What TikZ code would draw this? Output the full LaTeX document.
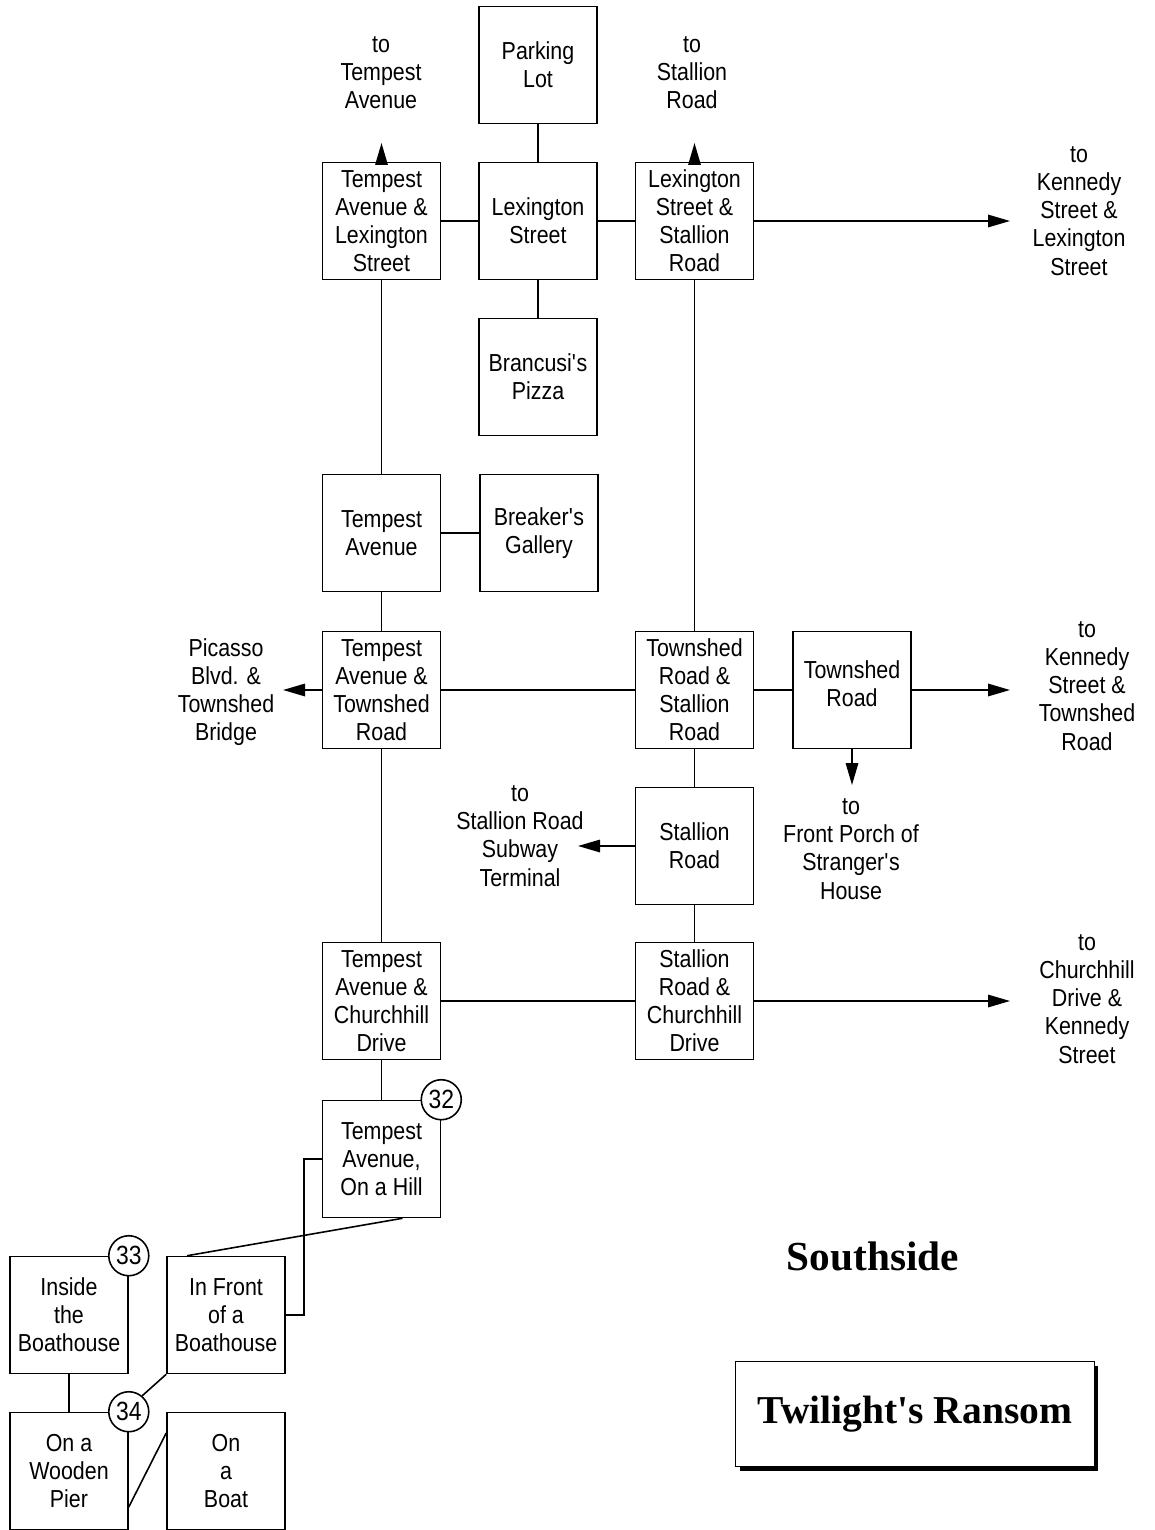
\documentclass[tikz,border=0pt]{standalone}
\usepackage{fontspec}
\setmainfont{Liberation Sans}[FakeStretch=0.87]
\newfontfamily\titlefont{Liberation Serif}
\usetikzlibrary{arrows.meta,shadows}
\newcommand{\ap}{\textquotesingle}

\begin{document}
\begin{tikzpicture}[x=0.02cm,y=-0.02cm,>={Triangle[length=0.44cm,width=0.25cm]},
    line width=0.9pt,
    place/.style={draw,minimum width=2.36cm,minimum height=2.34cm,inner sep=1pt,
      align=center,font=\fontsize{14}{16}\selectfont},
    exit/.style={align=center,font=\fontsize{14}{16}\selectfont},
    num/.style={draw,circle,fill=white,minimum size=0.8cm,inner sep=0pt,
      font=\fontsize{15}{15}\selectfont}]

  \useasboundingbox (0,0) rectangle (1154,1530);

  \node[place] (parking) at (538,65) {Parking\\Lot};
  \node[place] (tlex) at (381.5,221) {Tempest\\Avenue \&\\Lexington\\Street};
  \node[place] (lexst) at (538,221) {Lexington\\Street};
  \node[place] (lexstal) at (694.5,221) {Lexington\\Street \&\\Stallion\\Road};
  \node[place] (pizza) at (538,377) {Brancusi\ap s\\Pizza};
  \node[place] (tave) at (381.5,533) {Tempest\\Avenue};
  \node[place] (gallery) at (539,533) {Breaker\ap s\\Gallery};
  \node[place] (ttown) at (381.5,690) {Tempest\\Avenue \&\\Townshed\\Road};
  \node[place] (townstal) at (694.5,690) {Townshed\\Road \&\\Stallion\\Road};
  \node[place] (townrd) at (852,690) {Townshed\\Road\\[-0.32cm]};
  \node[place] (stalrd) at (694.5,846) {Stallion\\Road};
  \node[place] (tchurch) at (381.5,1001) {Tempest\\Avenue \&\\Churchhill\\Drive};
  \node[place] (stalchurch) at (694.5,1001) {Stallion\\Road \&\\Churchhill\\Drive};
  \node[place] (hill) at (381.5,1159) {Tempest\\Avenue,\\On a Hill};
  \node[place] (inside) at (69,1315) {Inside\\the\\Boathouse};
  \node[place] (front) at (226,1315) {In Front\\of a\\Boathouse};
  \node[place] (pier) at (69,1471) {On a\\Wooden\\Pier};
  \node[place] (boat) at (226,1471) {On\\a\\Boat};

  \node[num] (n32) at (hill.north east) {32};
  \node[num] (n33) at (inside.north east) {33};
  \node[num] (n34) at (pier.north east) {34};

  \node[exit] (toTA) at (381,73) {to\\Tempest\\Avenue};
  \node[exit] (toSR) at (692,73) {to\\Stallion\\Road};
  \node[exit] (toKL) at (1079,211) {to\\Kennedy\\Street \&\\Lexington\\Street};
  \node[exit] (toPB) at (226,692) {Picasso\\Blvd. \&\\Townshed\\Bridge};
  \node[exit] (toKT) at (1087,686) {to\\Kennedy\\Street \&\\Townshed\\Road};
  \node[exit] (toFP) at (851,849) {to\\Front Porch of\\Stranger\ap s\\House};
  \node[exit] (toSub) at (520,836) {to\\Stallion Road\\Subway\\Terminal};
  \node[exit] (toCK) at (1087,999) {to\\Churchhill\\Drive \&\\Kennedy\\Street};

  \coordinate (upTA) at (381.5,143);
  \coordinate (upSR) at (694.5,143);
  \coordinate (rtKL) at (1010,221);
  \coordinate (lfPB) at (283,690);
  \coordinate (rtKT) at (1010,690);
  \coordinate (dnFP) at (852,785);
  \coordinate (lfSub) at (578,846);
  \coordinate (rtCK) at (1010,1001);

  \draw (parking) -- (lexst);
  \draw (tlex) -- (lexst) -- (lexstal);
  \draw (lexst) -- (pizza);
  \draw (tlex) -- (tave) -- (ttown) -- (tchurch) -- (hill);
  \draw (tave) -- (gallery);
  \draw (lexstal) -- (townstal) -- (stalrd) -- (stalchurch);
  \draw (ttown) -- (townstal) -- (townrd);
  \draw (tchurch) -- (stalchurch);

  \draw[->] (tlex) -- (upTA);
  \draw[->] (lexstal) -- (upSR);
  \draw[->] (lexstal) -- (rtKL);
  \draw[->] (ttown) -- (lfPB);
  \draw[->] (townrd) -- (rtKT);
  \draw[->] (townrd) -- (dnFP);
  \draw[->] (stalrd) -- (lfSub);
  \draw[->] (stalchurch) -- (rtCK);

  \draw ([xshift=0.42cm]hill.south) -- ([xshift=-0.78cm]front.north);
  \draw (hill.west) -- ++(-18,0) |- (front.east);
  \draw (inside) -- (pier);
  \draw (n34.50) -- (front.south west);
  \draw ([yshift=-0.72cm]pier.east) -- ([yshift=0.76cm]boat.west);

  \node[font=\titlefont\bfseries\fontsize{23.5}{25}\selectfont] (south) at (873,1256) {Southside};
  \node[draw,fill=white,minimum width=7.18cm,minimum height=2.1cm,
    drop shadow={shadow xshift=0.08cm,shadow yshift=-0.08cm,fill=black,opacity=1},
    font=\titlefont\bfseries\fontsize{22.5}{24}\selectfont] (title) at (915,1414) {Twilight\ap s Ransom};
\end{tikzpicture}
\end{document}
